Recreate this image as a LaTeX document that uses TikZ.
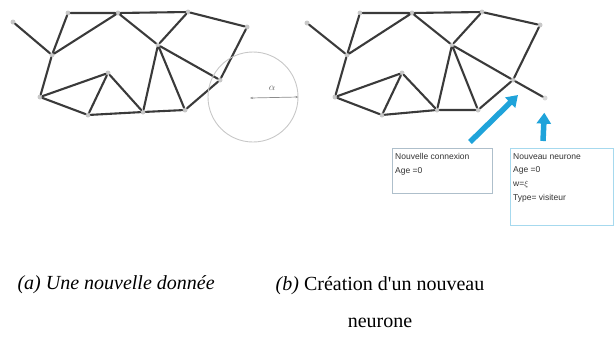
\documentclass[tikz,border=0pt]{standalone}
\usepackage{fontspec}
\setmainfont{Liberation Serif}
\setsansfont{Liberation Sans}
\usepackage{tikz}
\usetikzlibrary{arrows.meta, positioning, calc}
\definecolor{edgegray}{HTML}{3A3A3A}
\definecolor{dotgray}{HTML}{C8C8C8}
\definecolor{arrowblue}{HTML}{1FA3DA}
\definecolor{boxgray}{HTML}{AEBFCB}
\definecolor{boxblue}{HTML}{A6D9EE}
\tikzset{
    neur/.style={circle, fill=dotgray, inner sep=0pt, minimum size=5pt},
    edge/.style={draw=edgegray, line width=2.1pt, line cap=round},
    zone/.style={draw=black!22, line width=0.9pt},
    radius arrow/.style={{Stealth[length=3pt]}-{Stealth[length=3pt]}, draw=black!45, line width=0.7pt},
    bluearrow/.style={-{Triangle[length=11pt, width=14pt]}, draw=arrowblue, line width=5.5pt},
    infobox/.style={rectangle, fill=white, inner sep=0pt, anchor=north west},
    boxtext/.style={font=\sffamily\fontsize{8.5}{13.7}\selectfont, text=black!80, align=left, inner sep=0pt, anchor=north west},
    caption/.style={font=\fontsize{20}{37}\selectfont, align=center}
}

\begin{document}
\begin{tikzpicture}[x=1pt, y=-1pt]
    \useasboundingbox (0,0) rectangle (616,341);
    % (a) network and new input
    \node[neur] (l0) at (13,22) {};
    \node[neur] (l1) at (52,55) {};
    \node[neur] (l2) at (68,13) {};
    \node[neur] (l3) at (118,13) {};
    \node[neur] (l4) at (188,12) {};
    \node[neur] (l5) at (247,27) {};
    \node[neur] (l6) at (158,45) {};
    \node[neur] (l7) at (220,80) {};
    \node[neur] (l8) at (108,73) {};
    \node[neur] (l9) at (40,97) {};
    \node[neur] (l10) at (88,115) {};
    \node[neur] (l11) at (143,112) {};
    \node[neur] (l12) at (185,110) {};
    \draw[edge] (l0) -- (l1);
    \draw[edge] (l1) -- (l2) -- (l3) -- (l1);
    \draw[edge] (l3) -- (l4) -- (l6) -- (l3);
    \draw[edge] (l4) -- (l5) -- (l7) -- (l6);
    \draw[edge] (l6) -- (l11) -- (l12) -- (l6);
    \draw[edge] (l12) -- (l7);
    \draw[edge] (l1) -- (l9) -- (l8) -- (l10) -- (l9);
    \draw[edge] (l8) -- (l11) -- (l10);
    \node[circle, zone, minimum size=90pt, inner sep=0pt] (zone) at (253,97) {};
    \coordinate (input) at (250,98);
    \draw[radius arrow] (input) -- (zone.east);
    \node[font=\fontsize{10}{10}\selectfont, text=black!60] (alpha) at (272,88) {$\alpha$};

    % (b) new neuron and new connection
    \node[neur] (r0) at (307,23) {};
    \node[neur] (r1) at (347,55) {};
    \node[neur] (r2) at (360,13) {};
    \node[neur] (r3) at (412,13) {};
    \node[neur] (r4) at (482,12) {};
    \node[neur] (r5) at (540,25) {};
    \node[neur] (r6) at (452,45) {};
    \node[neur] (r7) at (513,80) {};
    \node[neur] (r8) at (402,73) {};
    \node[neur] (r9) at (335,97) {};
    \node[neur] (r10) at (382,115) {};
    \node[neur] (r11) at (437,110) {};
    \node[neur] (r12) at (478,110) {};
    \node[neur, fill=black!15] (rn) at (545,98) {};
    \draw[edge] (r0) -- (r1);
    \draw[edge] (r1) -- (r2) -- (r3) -- (r1);
    \draw[edge] (r3) -- (r4) -- (r6) -- (r3);
    \draw[edge] (r4) -- (r5) -- (r7) -- (r6);
    \draw[edge] (r6) -- (r11) -- (r12) -- (r6);
    \draw[edge] (r12) -- (r7);
    \draw[edge] (r1) -- (r9) -- (r8) -- (r10) -- (r9);
    \draw[edge] (r8) -- (r11) -- (r10);
    \draw[edge] (r7) -- (rn);

    \node[infobox, draw=boxgray, line width=0.8pt, minimum width=100pt, minimum height=45pt] (conn) at (392,148) {};
    \node[boxtext, below right=5pt and 3pt of conn.north west] (conntext) {Nouvelle connexion\\Age =0};
    \node[infobox, draw=boxblue, line width=1pt, minimum width=103pt, minimum height=77pt] (neuron) at (510,148) {};
    \node[boxtext, below right=5pt and 3pt of neuron.north west] (neurontext) {Nouveau neurone\\Age =0\\w=$\xi$\\Type= visiteur};

    \coordinate (tail1) at (470,142);
    \coordinate (head1) at (518,95);
    \coordinate (tail2) at (543,141);
    \draw[bluearrow] (tail1) -- (head1);
    \draw[bluearrow, shorten >=12pt] (tail2) -- (rn);

    % captions
    \node[caption, anchor=west] (capa) at (14,285) {\textit{(a) Une nouvelle donnée}};
    \node[caption, anchor=north] (capb) at (380,273) {\textit{(b)} Création d\textquotesingle un nouveau\\neurone};
\end{tikzpicture}
\end{document}
